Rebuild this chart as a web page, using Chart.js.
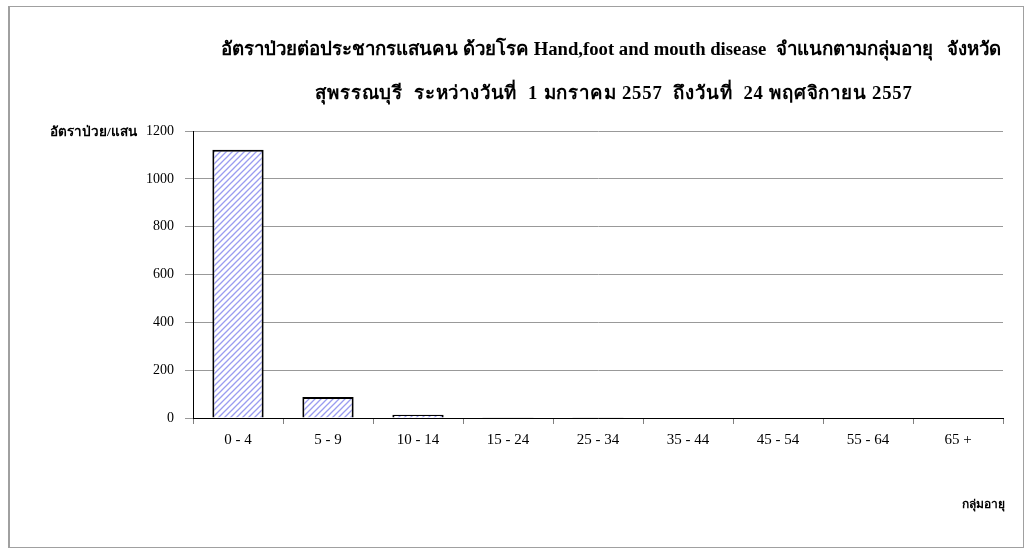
<!DOCTYPE html>
<html>
<head>
<meta charset="utf-8">
<script src="https://cdn.jsdelivr.net/npm/chart.js@4/dist/chart.umd.min.js"></script>
<style>
  body { margin: 0; background: #fff; }
  #wrap { width: 1030px; height: 550px; }
</style>
</head>
<body>
<div id="wrap"><canvas id="canvas" width="1030" height="550"></canvas></div>
<script>
'use strict';

const titleLines = [
   'อัตราป่วยต่อประชากรแสนคน ด้วยโรค Hand,foot and mouth disease  จำแนกตามกลุ่มอายุ   จังหวัด',
   'สุพรรณบุรี  ระหว่างวันที่  1 มกราคม 2557  ถึงวันที่  24 พฤศจิกายน 2557'
];
const yTitle = 'อัตราป่วย/แสน';
const xTitle = 'กลุ่มอายุ';

const ageGroups = ['0 - 4', '5 - 9', '10 - 14', '15 - 24', '25 - 34', '35 - 44', '45 - 54', '55 - 64', '65 +'];
const rates = [1122, 88, 14, 3, 3, 0, 0, 0, 0];
const yTicks = [0, 200, 400, 600, 800, 1000, 1200];

const SERIF = '"Liberation Serif", "Times New Roman", "Noto Sans", serif';

function hatchPattern() {
   let c = document.createElement('canvas');
   c.width = 6;
   c.height = 6;
   let g = c.getContext('2d');
   g.fillStyle = '#ffffff';
   g.fillRect(0, 0, 6, 6);
   g.strokeStyle = '#9a9cf0';
   g.lineWidth = 1.3;
   g.beginPath();
   g.moveTo(0, 6); g.lineTo(6, 0);
   g.moveTo(-3, 3); g.lineTo(3, -3);
   g.moveTo(3, 9); g.lineTo(9, 3);
   g.stroke();
   return g.createPattern(c, 'repeat');
}

// page frame, title and axis titles
const decorations = {
   id: 'decorations',
   afterDraw(chart) {
      let ctx = chart.ctx;
      let area = chart.chartArea;
      ctx.save();
      ctx.strokeStyle = '#a0a0a0';
      ctx.lineWidth = 1;
      ctx.strokeRect(8.5, 6.5, 1015, 541);
      ctx.fillStyle = '#a0a0a0';
      ctx.fillRect(8, 6, 2, 542);

      ctx.fillStyle = '#000';
      ctx.font = 'bold 18.7px ' + SERIF;
      ctx.textAlign = 'center';
      ctx.textBaseline = 'middle';
      ctx.fillText(titleLines[0], 611, 50);
      ctx.letterSpacing = '0.8px';
      ctx.fillText(titleLines[1], 614, 94);
      ctx.letterSpacing = '0px';

      ctx.font = 'bold 13.5px ' + SERIF;
      ctx.textAlign = 'left';
      ctx.fillText(yTitle, 50, area.top + 2);
      ctx.font = 'bold 12px ' + SERIF;
      ctx.fillText(xTitle, 962, 505);
      ctx.restore();
   }
};

let ctx = document.querySelector('#canvas').getContext('2d');

new Chart(ctx, {
   type: 'bar',
   data: {
      labels: ageGroups,
      datasets: [{
         data: rates,
         backgroundColor: hatchPattern(),
         borderColor: '#000',
         borderWidth: 2,
         barPercentage: 0.57,
         categoryPercentage: 1
      }]
   },
   options: {
      responsive: false,
      animation: false,
      layout: {padding: {top: 131, right: 27, left: 0, bottom: 0}},
      plugins: {
         legend: {display: false},
         tooltip: {enabled: false}
      },
      scales: {
         x: {
            offset: true,
            grid: {
               offset: true,
               display: true,
               drawOnChartArea: false,
               drawTicks: true,
               tickLength: 6,
               color: '#808080'
            },
            border: {color: '#000', width: 1},
            ticks: {
               color: '#000',
               font: {family: SERIF, size: 15},
               padding: 7,
               maxRotation: 0
            },
            afterFit(scale) { scale.height = 132; }
         },
         y: {
            min: 0,
            max: 1200,
            afterBuildTicks(scale) { scale.ticks = yTicks.map(v => ({value: v})); },
            grid: {
               color: '#999999',
               tickLength: 8,
               drawTicks: true
            },
            border: {color: '#000', width: 1},
            ticks: {
               color: '#000',
               font: {family: SERIF, size: 14},
               padding: 11,
               callback: v => String(v)
            },
            afterFit(scale) { scale.width = 193; }
         }
      }
   },
   plugins: [decorations]
});
</script>
</body>
</html>
